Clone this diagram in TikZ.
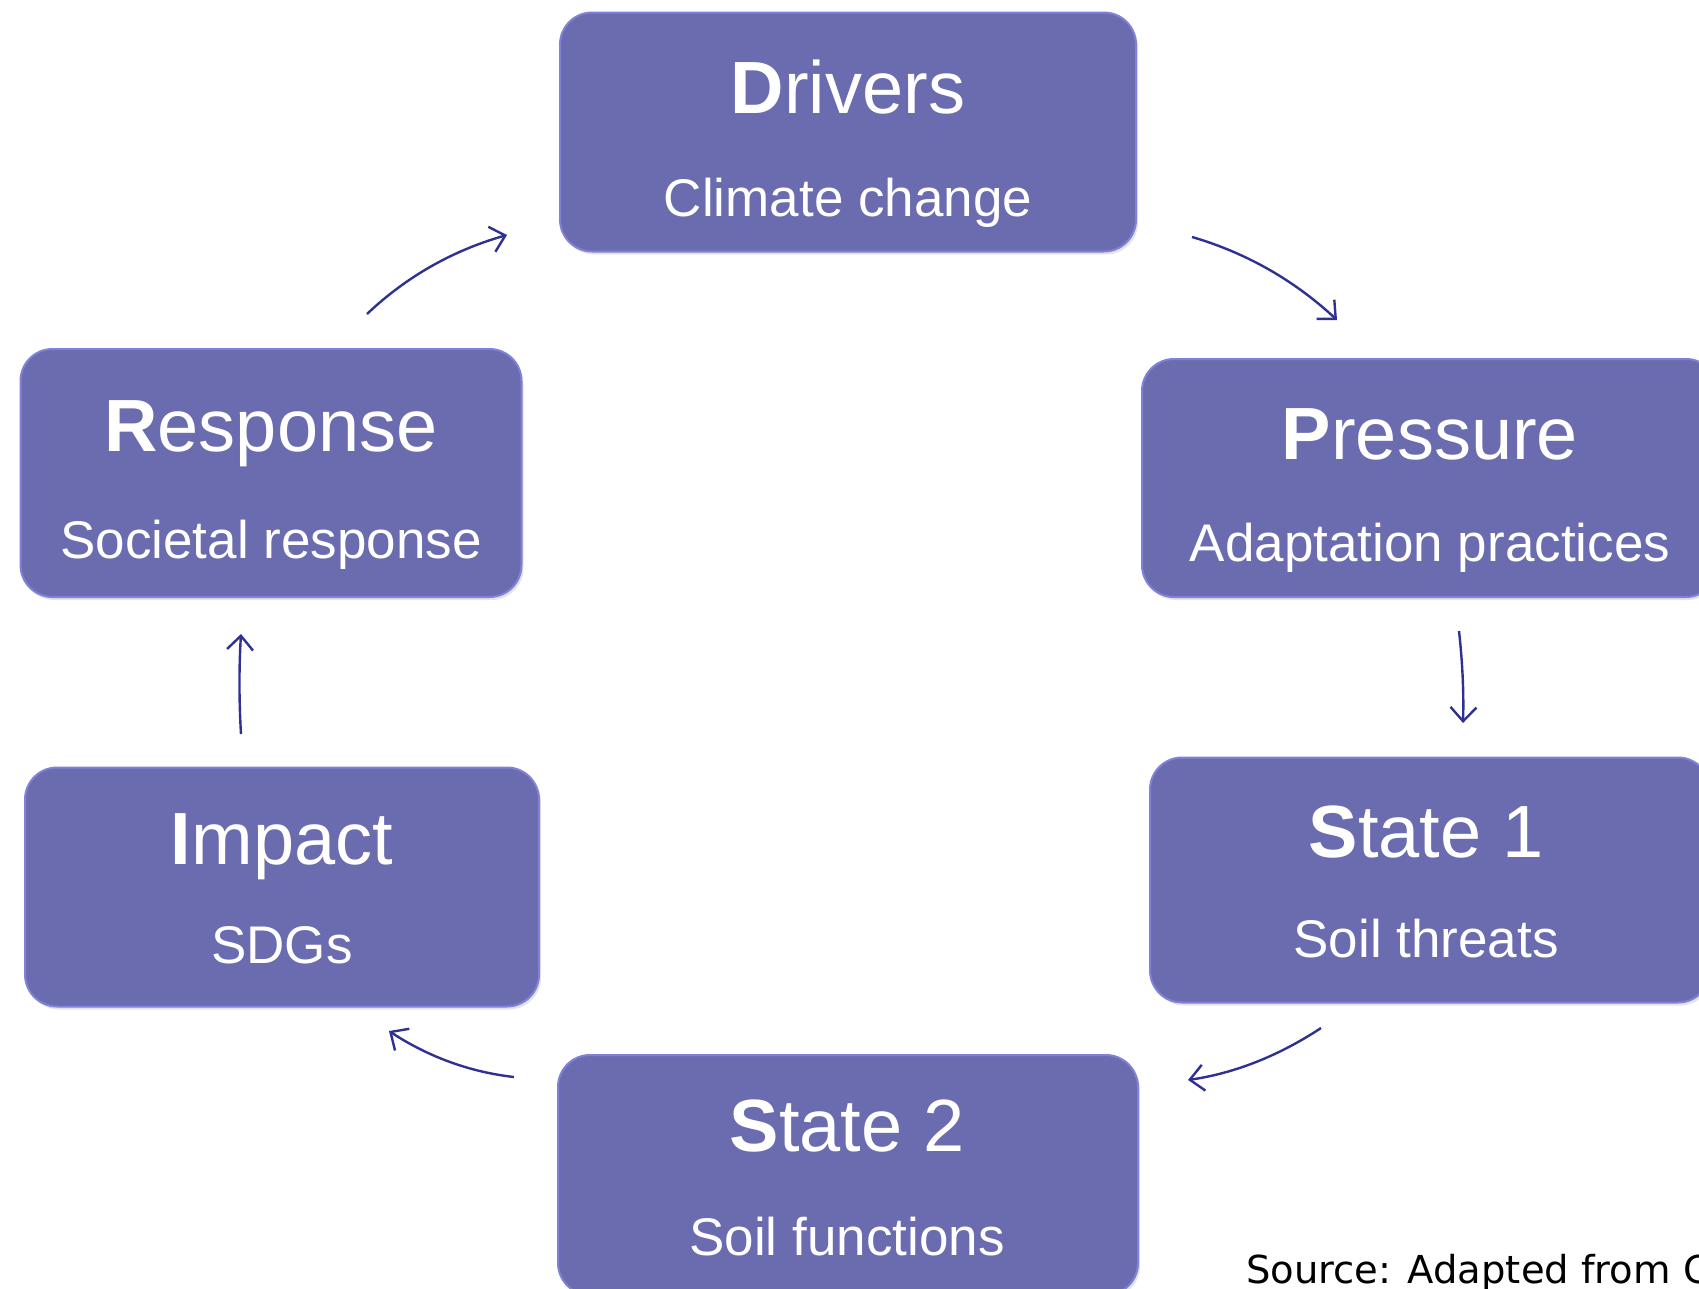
\documentclass[tikz,border=0pt]{standalone}
\usepackage{fontspec}
\setmainfont{Liberation Sans}
\newfontfamily\srcfont{DejaVu Sans}
\usetikzlibrary{arrows.meta,shadows}
\definecolor{boxfill}{RGB}{107,108,175}
\definecolor{boxline}{RGB}{128,130,218}
\definecolor{arrowcol}{RGB}{46,49,146}
\tikzset{
  cyclebox/.style={rectangle, rounded corners=32pt, fill=boxfill, draw=boxline, line width=2pt,
    drop shadow={opacity=0.22, shadow xshift=2pt, shadow yshift=-3pt}, inner sep=0pt},
  titletext/.style={anchor=base, text=white, font=\fontsize{74pt}{80pt}\selectfont, inner sep=0pt},
  subtext/.style={anchor=base, text=white, font=\fontsize{53pt}{60pt}\selectfont, inner sep=0pt},
  cyclearrow/.style={draw=arrowcol, line width=2.4pt, -{Straight Barb[length=14pt,width=26pt,line width=2.4pt]}},
}
\begin{document}
\begin{tikzpicture}[x=1pt,y=-1pt]
\useasboundingbox (0,0) rectangle (1699,1288);
% boxes
\node[cyclebox, minimum width=576pt, minimum height=239pt] (drivers) at (848,132) {};
\node[cyclebox, minimum width=576pt, minimum height=238pt] (pressure) at (1430,478) {};
\node[cyclebox, minimum width=560pt, minimum height=245pt] (state1) at (1430,880) {};
\node[cyclebox, minimum width=580pt, minimum height=240pt] (state2) at (848,1175) {};
\node[cyclebox, minimum width=514pt, minimum height=239pt] (impact) at (282,887) {};
\node[cyclebox, minimum width=501pt, minimum height=248pt] (response) at (271,473) {};
% texts
\node[titletext] (driversT) at (848,113) {\textbf{D}rivers};
\node[subtext] (driversS) at (848,216) {Climate change};
\node[titletext] (pressureT) at (1430,459) {\textbf{P}ressure};
\node[subtext] (pressureS) at (1430,561) {Adaptation practices};
\node[titletext] (state1T) at (1426,857) {\textbf{S}tate 1};
\node[subtext] (state1S) at (1426,957) {Soil threats};
\node[titletext] (state2T) at (847,1151) {\textbf{S}tate 2};
\node[subtext] (state2S) at (847,1255) {Soil functions};
\node[titletext] (impactT) at (282,864) {\textbf{I}mpact};
\node[subtext] (impactS) at (282,963) {SDGs};
\node[titletext] (responseT) at (271,451) {\textbf{R}esponse};
\node[subtext] (responseS) at (271,558) {Societal response};
% source
\node[anchor=base west, inner sep=0pt, font=\srcfont\fontsize{38.5pt}{42pt}\selectfont] (source) at (1246,1283) {Source: Adapted from G};
% arrow endpoints and control points
\coordinate (a1s) at (367,314); \coordinate (a1c) at (407,276); \coordinate (a1d) at (454,250); \coordinate (a1e) at (507,235);
\coordinate (a2s) at (1192,237); \coordinate (a2c) at (1247,253); \coordinate (a2d) at (1295,281); \coordinate (a2e) at (1337,320);
\coordinate (a3s) at (1459,631); \coordinate (a3c) at (1462,658); \coordinate (a3d) at (1464,689); \coordinate (a3e) at (1463,723);
\coordinate (a4s) at (1321,1028); \coordinate (a4c) at (1280,1055); \coordinate (a4d) at (1236,1073); \coordinate (a4e) at (1188,1080);
\coordinate (a5s) at (514,1077); \coordinate (a5c) at (469,1072); \coordinate (a5d) at (427,1056); \coordinate (a5e) at (389,1031);
\coordinate (a6s) at (241,734); \coordinate (a6c) at (239,701); \coordinate (a6d) at (239,667); \coordinate (a6e) at (241,634);
\draw[cyclearrow] (a1s) .. controls (a1c) and (a1d) .. (a1e);
\draw[cyclearrow] (a2s) .. controls (a2c) and (a2d) .. (a2e);
\draw[cyclearrow] (a3s) .. controls (a3c) and (a3d) .. (a3e);
\draw[cyclearrow] (a4s) .. controls (a4c) and (a4d) .. (a4e);
\draw[cyclearrow] (a5s) .. controls (a5c) and (a5d) .. (a5e);
\draw[cyclearrow] (a6s) .. controls (a6c) and (a6d) .. (a6e);
\end{tikzpicture}
\end{document}
